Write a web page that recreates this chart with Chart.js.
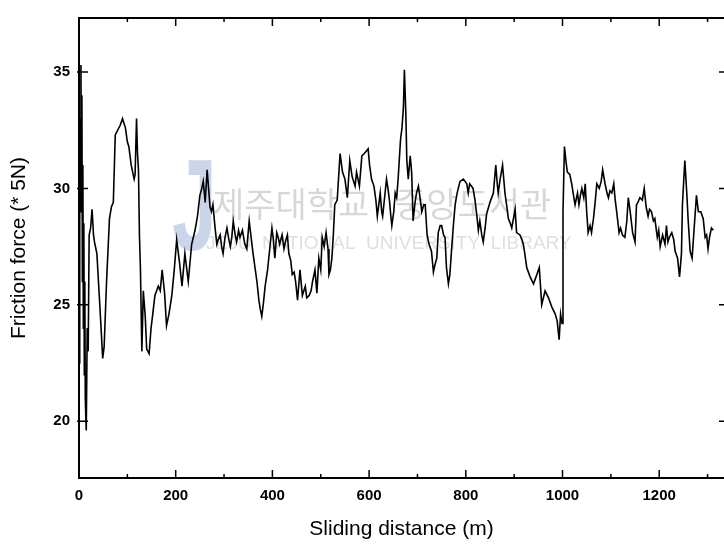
<!DOCTYPE html>
<html>
<head>
<meta charset="utf-8">
<script src="https://cdn.jsdelivr.net/npm/chart.js@4.4.1/dist/chart.umd.min.js"></script>
<style>
    html, body { margin: 0; padding: 0; background: #fff; }
    #wrap { width: 724px; height: 546px; position: relative; }
</style>
</head>
<body>
<div id="wrap"><canvas id="frictionChart"></canvas></div>
<script>
///////////////////////////
// DATA
///////////////////////////

const distance = [
    0, 1, 2, 3, 4, 5, 6, 7, 8, 9, 10, 11, 12, 13, 15, 17, 19, 21, 24, 27,
    30, 32, 37, 43, 49, 52, 57, 63, 67, 71, 75, 80, 85, 90, 93, 96, 100, 103, 108, 112,
    114, 116, 119, 121, 123, 125, 127, 130, 133, 137, 140, 145, 149, 152, 157, 164, 168, 172, 177, 181,
    186, 192, 197, 202, 208, 213, 219, 226, 233, 240, 245, 250, 254, 257, 261, 265, 268, 271, 274, 277,
    281, 285, 288, 292, 295, 298, 302, 306, 310, 313, 316, 319, 323, 326, 330, 333, 338, 343, 347, 352,
    356, 360, 364, 368, 372, 375, 378, 381, 385, 390, 394, 399, 402, 405, 409, 412, 415, 420, 424, 428,
    431, 434, 438, 441, 445, 448, 452, 457, 462, 468, 471, 476, 480, 483, 488, 492, 496, 500, 503, 507,
    511, 515, 517, 520, 523, 526, 529, 534, 537, 540, 545, 550, 555, 560, 565, 571, 574, 580, 585, 590,
    594, 598, 601, 605, 610, 614, 617, 620, 623, 626, 628, 632, 636, 639, 642, 645, 647, 651, 654, 657,
    660, 665, 668, 671, 673, 676, 678, 681, 685, 688, 691, 695, 698, 702, 706, 709, 713, 716, 720, 724,
    729, 733, 736, 740, 743, 747, 750, 754, 757, 760, 764, 767, 771, 775, 778, 782, 788, 795, 802, 805,
    808, 815, 819, 823, 826, 829, 833, 836, 840, 843, 850, 857, 862, 865, 867, 871, 876, 881, 885, 888,
    892, 895, 902, 905, 912, 916, 919, 922, 926, 933, 940, 947, 952, 957, 964, 971, 978, 985, 989, 993,
    996, 999, 1001, 1004, 1007, 1010, 1015, 1019, 1022, 1026, 1031, 1034, 1037, 1040, 1044, 1047, 1050, 1053, 1057, 1060,
    1064, 1067, 1071, 1076, 1080, 1083, 1088, 1092, 1095, 1098, 1102, 1106, 1109, 1112, 1117, 1120, 1124, 1129, 1133, 1136,
    1140, 1145, 1150, 1153, 1156, 1160, 1165, 1169, 1173, 1177, 1180, 1184, 1188, 1191, 1196, 1199, 1202, 1207, 1212, 1215,
    1218, 1221, 1226, 1230, 1233, 1238, 1242, 1246, 1248, 1253, 1257, 1260, 1264, 1268, 1271, 1277, 1281, 1286, 1291, 1295,
    1298, 1301, 1304, 1308, 1312
];

const friction = [
    22.5, 27.0, 33.0, 29.0, 35.3, 31.0, 34.0, 26.0, 31.0, 24.0, 28.5, 22.0, 26.0, 21.0, 19.6, 24.0, 23.0, 28.0, 28.3, 29.1,
    28.0, 27.7, 27.2, 25.0, 22.7, 23.2, 26.0, 28.7, 29.2, 29.4, 32.3, 32.5, 32.7, 33.0, 32.8, 32.6, 32.0, 31.8, 31.0, 30.6,
    30.4, 30.6, 33.0, 31.5, 30.8, 28.0, 26.6, 23.0, 25.6, 24.5, 23.1, 22.9, 24.0, 24.5, 25.4, 25.8, 25.6, 26.5, 25.5, 24.1,
    24.6, 25.4, 26.5, 27.8, 26.8, 25.8, 27.2, 26.0, 27.6, 28.2, 28.8, 29.7, 30.0, 30.3, 29.4, 30.8, 30.0, 29.2, 29.0, 29.3,
    28.4, 27.6, 27.8, 28.0, 27.5, 27.2, 27.9, 28.3, 27.8, 27.5, 27.9, 28.6, 28.0, 27.7, 28.2, 27.9, 28.2, 27.6, 27.4, 28.6,
    27.9, 27.2, 26.6, 26.0, 25.2, 24.8, 24.5, 25.0, 25.8, 26.5, 27.3, 28.3, 27.8, 27.0, 28.1, 27.9, 27.6, 28.0, 27.4, 27.8,
    28.0, 27.2, 26.9, 26.3, 26.4, 26.0, 25.2, 26.5, 25.4, 25.8, 25.3, 25.4, 25.6, 26.0, 26.5, 25.5, 27.0, 26.5, 27.9, 27.5,
    28.1, 27.4, 26.3, 26.5, 27.0, 28.0, 29.3, 29.5, 30.5, 31.5, 30.7, 30.4, 29.6, 31.2, 30.5, 30.1, 30.7, 30.1, 31.4, 31.5,
    31.6, 31.7, 31.0, 30.4, 30.1, 29.5, 28.8, 29.3, 29.8, 29.0, 28.8, 29.6, 30.4, 30.0, 29.5, 28.8, 28.4, 29.0, 29.8, 29.6,
    30.4, 32.1, 32.6, 33.5, 35.1, 33.2, 31.2, 30.4, 31.4, 30.7, 28.6, 29.4, 29.8, 30.1, 29.5, 29.0, 29.3, 29.3, 28.0, 27.6,
    27.3, 26.4, 26.7, 27.0, 28.1, 28.4, 28.4, 28.0, 27.9, 26.6, 25.9, 26.3, 27.5, 28.6, 29.3, 29.8, 30.3, 30.4, 30.2, 29.8,
    30.2, 30.0, 29.5, 28.8, 28.2, 28.6, 28.0, 27.7, 28.3, 28.9, 29.4, 29.8, 31.0, 30.2, 29.8, 30.4, 31.0, 29.8, 29.2, 28.7,
    28.5, 28.3, 29.1, 28.1, 28.0, 27.8, 27.6, 27.2, 26.6, 26.2, 25.9, 26.3, 26.6, 25.0, 25.6, 25.3, 24.9, 24.6, 24.3, 23.5,
    24.6, 24.2, 29.0, 31.8, 31.2, 30.7, 30.6, 30.2, 29.8, 29.3, 29.8, 29.3, 29.7, 30.0, 29.6, 30.2, 29.0, 28.1, 28.4, 28.1,
    28.7, 29.3, 30.2, 30.0, 30.3, 30.8, 30.2, 29.8, 29.6, 29.9, 29.8, 30.2, 29.5, 29.0, 28.1, 28.3, 28.0, 27.9, 28.6, 29.6,
    29.0, 28.1, 27.7, 29.3, 29.4, 29.6, 29.5, 30.0, 29.2, 28.8, 29.1, 29.0, 28.6, 28.7, 27.9, 28.2, 27.5, 28.0, 27.6, 28.4,
    27.7, 27.9, 28.1, 27.8, 27.3, 27.0, 26.2, 27.2, 29.3, 31.2, 29.8, 28.6, 27.3, 27.0, 27.9, 29.7, 29.0, 29.0, 28.7, 27.9,
    28.0, 27.4, 27.9, 28.3, 28.2
];

const xTicks = [0, 200, 400, 600, 800, 1000, 1200];
const xMinorTicks = [100, 300, 500, 700, 900, 1100, 1300];
const yTicks = [20, 25, 30, 35];

const X_MIN = 0, X_MAX = 1334;
const Y_MIN = 17.56, Y_MAX = 37.32;

const FONT = "'Liberation Sans', Arial, sans-serif";

///////////////////////////
// PLUGINS
///////////////////////////

// faint library watermark behind the trace
const watermark = {
    id: "watermark",
    beforeDatasetsDraw(chart) {
        const ctx = chart.ctx;
        ctx.save();
        ctx.fillStyle = "rgba(150, 172, 212, 0.5)";
        ctx.font = "bold 130px " + FONT;
        ctx.textBaseline = "alphabetic";
        ctx.translate(172, 250);
        ctx.scale(0.62, 1);
        ctx.fillText("J", 0, 0);
        ctx.restore();

        ctx.save();
        ctx.fillStyle = "rgba(150, 150, 150, 0.38)";
        ctx.font = "34px 'Noto Sans CJK KR', sans-serif";
        ctx.textBaseline = "middle";
        ctx.fillText("제주대학교", 213, 204);
        ctx.fillText("중앙도서관", 395, 204);

        ctx.font = "19px " + FONT;
        ctx.fillStyle = "rgba(150, 150, 150, 0.3)";
        ctx.fillText("JEJU  NATIONAL  UNIVERSITY  LIBRARY", 206, 244);
        ctx.restore();
    }
};

// box frame with inward tick marks
const frame = {
    id: "frame",
    afterDraw(chart) {
        const { ctx, chartArea: a, scales: { x, y } } = chart;
        ctx.save();
        ctx.strokeStyle = "#000";
        ctx.lineWidth = 2;
        ctx.beginPath();
        ctx.moveTo(a.right, a.top);
        ctx.lineTo(a.left, a.top);
        ctx.lineTo(a.left, a.bottom);
        ctx.lineTo(a.right, a.bottom);
        ctx.stroke();

        ctx.lineWidth = 1.5;
        ctx.beginPath();
        xTicks.forEach(v => {
            const px = x.getPixelForValue(v);
            ctx.moveTo(px, a.bottom); ctx.lineTo(px, a.bottom - 8);
            ctx.moveTo(px, a.top); ctx.lineTo(px, a.top + 8);
        });
        xMinorTicks.forEach(v => {
            const px = x.getPixelForValue(v);
            ctx.moveTo(px, a.bottom); ctx.lineTo(px, a.bottom - 4);
            ctx.moveTo(px, a.top); ctx.lineTo(px, a.top + 4);
        });
        yTicks.forEach(v => {
            const py = y.getPixelForValue(v);
            ctx.moveTo(a.left - 2, py); ctx.lineTo(a.left + 9, py);
            ctx.moveTo(a.right - 5, py); ctx.lineTo(a.right, py);
        });
        ctx.stroke();
        ctx.restore();
    }
};

///////////////////////////
// CHART
///////////////////////////

const points = distance.map((d, i) => ({ x: d, y: friction[i] }));

new Chart(document.getElementById("frictionChart"), {
    type: "line",
    data: {
        datasets: [{
            data: points,
            borderColor: "#000",
            borderWidth: 1.6,
            pointRadius: 0,
            tension: 0,
            fill: false
        }]
    },
    options: {
        responsive: true,
        maintainAspectRatio: false,
        animation: false,
        layout: { padding: { top: 9, right: 0, left: 0, bottom: 0 } },
        plugins: {
            legend: { display: false },
            tooltip: { enabled: false }
        },
        scales: {
            x: {
                type: "linear",
                min: X_MIN,
                max: X_MAX,
                grid: { display: false, drawTicks: false },
                border: { display: false },
                afterBuildTicks: s => { s.ticks = xTicks.map(v => ({ value: v })); },
                afterFit: s => { s.height = 68; },
                ticks: {
                    color: "#000",
                    padding: 9,
                    maxRotation: 0,
                    callback: v => String(v),
                    font: { family: FONT, size: 15, weight: "bold" }
                },
                title: {
                    display: true,
                    text: "Sliding distance (m)",
                    color: "#000",
                    padding: { top: 0, bottom: 4 },
                    font: { family: FONT, size: 21 }
                }
            },
            y: {
                min: Y_MIN,
                max: Y_MAX,
                grid: { display: false, drawTicks: false },
                border: { display: false },
                afterBuildTicks: s => { s.ticks = yTicks.map(v => ({ value: v })); },
                afterFit: s => { s.width = 79; },
                ticks: {
                    color: "#000",
                    padding: 9,
                    font: { family: FONT, size: 15, weight: "bold" }
                },
                title: {
                    display: true,
                    text: "Friction force (* 5N)",
                    color: "#000",
                    padding: { top: 7, bottom: 0 },
                    font: { family: FONT, size: 21 }
                }
            }
        }
    },
    plugins: [watermark, frame]
});
</script>
</body>
</html>
